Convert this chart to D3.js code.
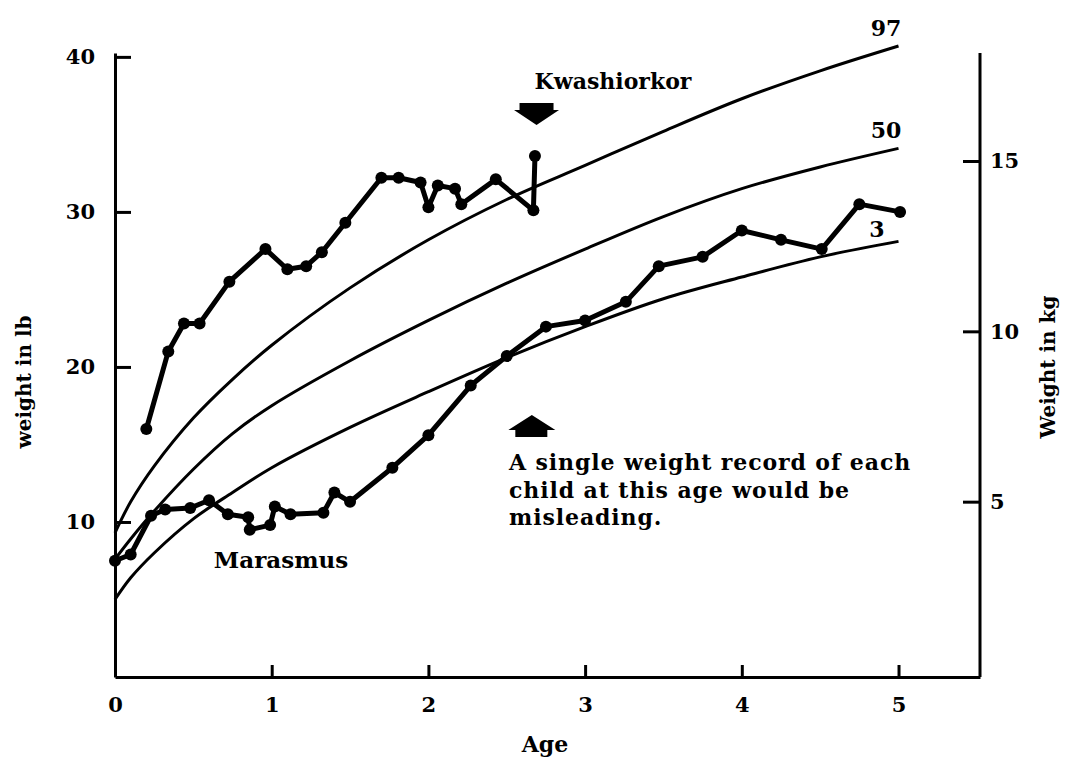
<!DOCTYPE html>
<html>
<head>
<meta charset="utf-8">
<script src="https://cdn.jsdelivr.net/npm/d3@7"></script>
<style>
  body { margin: 0; background: #fff; }
  svg text { font-family: "DejaVu Serif", serif; font-weight: bold; fill: #000; }
</style>
</head>
<body>
<svg id="chart" width="1067" height="757"></svg>
<script>
// percentile curves (weight in lb by age in years)
const pctAges = [0, 0.1, 0.25, 0.5, 0.75, 1, 1.5, 2, 2.5, 3, 3.5, 4, 4.5, 5];
const p97 = [9.3, 11.3, 13.6, 16.7, 19.2, 21.4, 25.1, 28.2, 30.8, 33.0, 35.2, 37.3, 39.1, 40.7];
const p50 = [7.6, 8.9, 10.7, 13.4, 15.7, 17.5, 20.4, 23.0, 25.4, 27.6, 29.7, 31.5, 32.9, 34.1];
const p3 = [5.0, 6.4, 8.0, 10.2, 11.9, 13.5, 16.1, 18.4, 20.6, 22.6, 24.4, 25.8, 27.1, 28.1];
const pctNames = ['97', '50', '3'];

// child with kwashiorkor
const kwashAge = [0.20, 0.34, 0.44, 0.54, 0.73, 0.96, 1.10, 1.22, 1.32, 1.47, 1.70, 1.81, 1.95, 2.00, 2.06, 2.17, 2.21, 2.43, 2.67, 2.68];
const kwashLb = [16.0, 21.0, 22.8, 22.8, 25.5, 27.6, 26.3, 26.5, 27.4, 29.3, 32.2, 32.2, 31.9, 30.3, 31.7, 31.5, 30.5, 32.1, 30.1, 33.6];

// child with marasmus
const marasAge = [0, 0.10, 0.23, 0.32, 0.48, 0.60, 0.72, 0.85, 0.86, 0.99, 1.02, 1.12, 1.33, 1.40, 1.50, 1.77, 2.00, 2.27, 2.50, 2.75, 3.00, 3.26, 3.47, 3.75, 4.00, 4.25, 4.51, 4.75, 5.01];
const marasLb = [7.5, 7.9, 10.4, 10.8, 10.9, 11.4, 10.5, 10.3, 9.5, 9.8, 11.0, 10.5, 10.6, 11.9, 11.3, 13.5, 15.6, 18.8, 20.7, 22.6, 23.0, 24.2, 26.5, 27.1, 28.8, 28.2, 27.6, 30.5, 30.0];

const ageTicks = [0, 1, 2, 3, 4, 5];
const lbTicks = [10, 20, 30, 40];
const kgTicks = [5, 10, 15];

const noteLines = ['A single weight record of each', 'child at this age would be', 'misleading.'];

const svg = d3.select('#chart');

let x = d3.scaleLinear().domain([0, 5.52]).range([115, 980]);
let y = d3.scaleLinear().domain([0, 40.25]).range([677, 53]);
// kg axis as printed on the chart
let yKg = d3.scaleLinear().domain([0, 15]).range([672, 161]);

// axes
const styleAxis = (g) => {
    g.attr('font-size', 21);
    g.select('.domain').attr('stroke-width', 3);
    g.selectAll('.tick line').attr('stroke-width', 3);
};

svg.append('g')
    .attr('transform', `translate(${x(0)},0)`)
    .call(d3.axisLeft(y).tickValues(lbTicks).tickSizeInner(-16).tickSizeOuter(0).tickPadding(20))
    .call(styleAxis);

svg.append('g')
    .attr('transform', `translate(0,${y(0)})`)
    .call(d3.axisBottom(x).tickValues(ageTicks).tickFormat(d3.format('d'))
        .tickSizeInner(-12).tickSizeOuter(0).tickPadding(20))
    .call(styleAxis);

svg.append('g')
    .attr('transform', `translate(${x.range()[1]},0)`)
    .call(d3.axisRight(yKg).tickValues(kgTicks).tickSizeInner(-17).tickSizeOuter(0).tickPadding(10))
    .call(styleAxis)
    .select('.domain').remove();

svg.append('line')
    .attr('x1', x.range()[1]).attr('x2', x.range()[1])
    .attr('y1', y.range()[0]).attr('y2', y.range()[1])
    .attr('stroke', '#000').attr('stroke-width', 3);

// axis titles
svg.append('text')
    .attr('transform', 'translate(31,382) rotate(-90)')
    .attr('text-anchor', 'middle')
    .attr('font-size', 20)
    .text('weight in lb');

svg.append('text')
    .attr('transform', 'translate(1055,367) rotate(-90)')
    .attr('text-anchor', 'middle')
    .attr('font-size', 20)
    .text('Weight in kg');

svg.append('text')
    .attr('x', 545).attr('y', 752)
    .attr('text-anchor', 'middle')
    .attr('font-size', 22)
    .text('Age');

// percentile curves
const pctLine = d3.line()
    .x((d, i) => x(pctAges[i]))
    .y(d => y(d))
    .curve(d3.curveCatmullRom.alpha(0.5));

[p97, p50, p3].forEach(vals => {
    svg.append('path')
        .attr('d', pctLine(vals))
        .attr('fill', 'none')
        .attr('stroke', '#000')
        .attr('stroke-width', 3);
});

const pctLabelPos = [[886, 36], [886, 138], [877, 237]];
pctNames.forEach((name, k) => {
    svg.append('text')
        .attr('x', pctLabelPos[k][0]).attr('y', pctLabelPos[k][1])
        .attr('text-anchor', 'middle')
        .attr('font-size', 22)
        .text(name);
});

// the two children
const drawChild = (ages, lbs) => {
    let pts = ages.map((a, i) => [x(a), y(lbs[i])]);
    svg.append('path')
        .attr('d', d3.line()(pts))
        .attr('fill', 'none')
        .attr('stroke', '#000')
        .attr('stroke-width', 5)
        .attr('stroke-linejoin', 'round');
    svg.append('g').selectAll('circle')
        .data(pts)
        .enter().append('circle')
        .attr('cx', d => d[0])
        .attr('cy', d => d[1])
        .attr('r', 6)
        .attr('fill', '#000');
};
drawChild(kwashAge, kwashLb);
drawChild(marasAge, marasLb);

// annotations
const downArrow = [[-17, -22], [17, -22], [17, -15], [22.5, -15], [0, 0], [-22.5, -15], [-17, -15]];
const upArrow = [[0, 0], [23.5, 15], [15.5, 15], [15.5, 22], [-16.5, 22], [-16.5, 15], [-23.5, 15]];

svg.append('polygon')
    .attr('points', downArrow.map(p => [x(2.69) + p[0], y(35.6) + p[1]].join(',')).join(' '))
    .attr('fill', '#000');

svg.append('polygon')
    .attr('points', upArrow.map(p => [x(2.66) + p[0], y(16.9) + p[1]].join(',')).join(' '))
    .attr('fill', '#000');

svg.append('text')
    .attr('x', 613).attr('y', 89)
    .attr('text-anchor', 'middle')
    .attr('font-size', 22)
    .text('Kwashiorkor');

svg.append('text')
    .attr('x', 281).attr('y', 568)
    .attr('text-anchor', 'middle')
    .attr('font-size', 23)
    .text('Marasmus');

svg.append('g').selectAll('text')
    .data(noteLines)
    .enter().append('text')
    .attr('x', 509)
    .attr('y', (d, i) => 470 + i * 27.5)
    .attr('font-size', 22)
    .attr('letter-spacing', 0.9)
    .text(d => d);
</script>
</body>
</html>
